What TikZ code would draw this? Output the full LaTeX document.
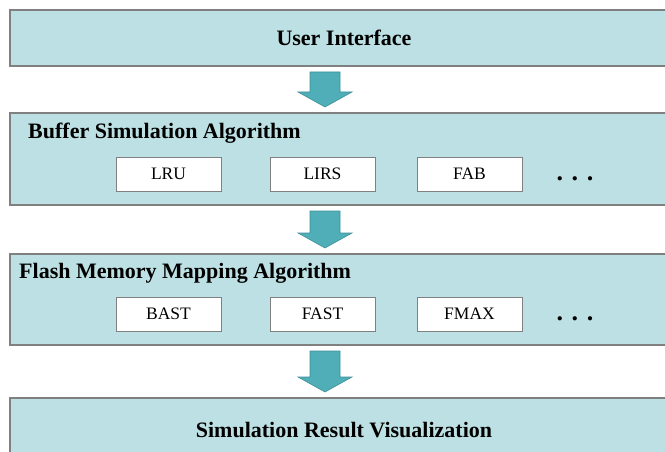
\documentclass[tikz,border=0pt]{standalone}
\usepackage{fontspec}
\setmainfont{Liberation Serif}
\usetikzlibrary{calc}
\definecolor{layerfill}{HTML}{BCE0E3}
\definecolor{layerline}{HTML}{808080}
\definecolor{arrowfill}{HTML}{4FAEB7}
\definecolor{arrowline}{HTML}{3F9098}
\tikzset{
  layer/.style={draw=layerline, line width=1.2pt, fill=layerfill, anchor=north west,
    minimum width=680pt, inner sep=0pt, outer sep=0pt},
  algbox/.style={draw=layerline, line width=0.9pt, fill=white, minimum width=105pt,
    minimum height=34pt, inner sep=0pt, font=\fontsize{17.5}{20}\selectfont},
  title/.style={font=\bfseries\fontsize{22}{24}\selectfont, inner sep=0pt},
  dotsstyle/.style={font=\bfseries\fontsize{26}{28}\selectfont, inner sep=0pt, anchor=base},
  blockarrow/.style={fill=arrowfill, draw=arrowline, line width=0.6pt, line join=miter},
}
\begin{document}
\begin{tikzpicture}[x=1pt,y=-1pt]
\useasboundingbox (0,0) rectangle (665,452);
\clip (0,0) rectangle (665,452);
\fill[white] (0,0) rectangle (665,452);
% layers
\node[layer, minimum height=56pt] (ui) at (10,10) {};
\node[layer, minimum height=92pt] (buf) at (10,113) {};
\node[layer, minimum height=91pt] (map) at (10,254) {};
\node[layer, minimum height=70pt] (vis) at (10,398) {};
% titles
\node[title] (uit) at (344,38) {User Interface};
\node[title, anchor=west] (buft) at (28,133) {Buffer Simulation Algorithm};
\node[title, anchor=west] (mapt) at (19,273) {Flash Memory Mapping Algorithm};
\node[title] (vist) at (344,430) {Simulation Result Visualization};
% algorithm boxes
\node[algbox] (lru) at (168.5,174) {LRU};
\node[algbox] (lirs) at (322.5,174) {LIRS};
\node[algbox] (fab) at (469.5,174) {FAB};
\node[dotsstyle] (dots1) at (575,180) {.\,\,.\,\,.};
\node[algbox] (bast) at (168.5,314) {BAST};
\node[algbox] (fast) at (322.5,314) {FAST};
\node[algbox] (fmax) at (469.5,314) {FMAX};
\node[dotsstyle] (dots2) at (575,320) {.\,\,.\,\,.};
% block arrows
\foreach \a/\b in {ui/buf, buf/map, map/vis}{
  \path ($(\a.south west)+(315,6)$) coordinate (t) ($(\b.north west)+(315,-6)$) coordinate (h);
  \draw[blockarrow] ($(t)+(-15,0)$) -- ($(t)+(15,0)$) -- ($(h)+(15,-15)$) -- ($(h)+(27,-15)$)
     -- (h) -- ($(h)+(-27,-15)$) -- ($(h)+(-15,-15)$) -- cycle;
}
\end{tikzpicture}
\end{document}
